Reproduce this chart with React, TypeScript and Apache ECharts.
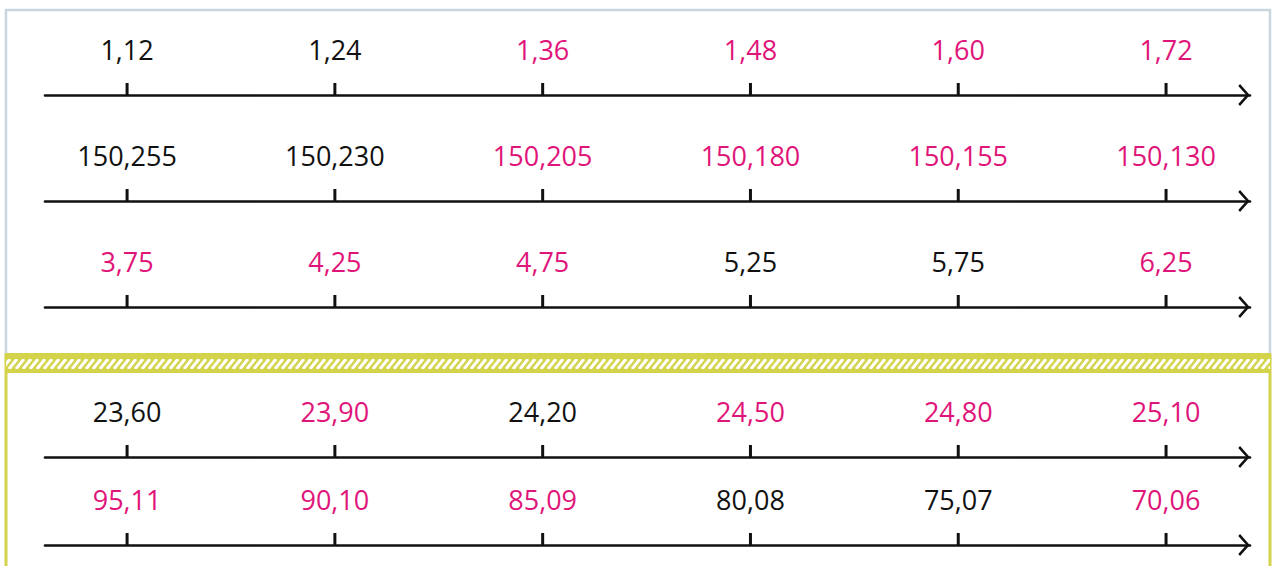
import React, { useEffect, useRef } from "react";
import * as echarts from "echarts";

// ---- data ----
const row1Values = [1.12, 1.24, 1.36, 1.48, 1.6, 1.72];
const row1Highlight = [false, false, true, true, true, true];
const row2Values = [150.255, 150.23, 150.205, 150.18, 150.155, 150.13];
const row2Highlight = [false, false, true, true, true, true];
const row3Values = [3.75, 4.25, 4.75, 5.25, 5.75, 6.25];
const row3Highlight = [true, true, true, false, false, true];
const row4Values = [23.6, 23.9, 24.2, 24.5, 24.8, 25.1];
const row4Highlight = [false, true, false, true, true, true];
const row5Values = [95.11, 90.1, 85.09, 80.08, 75.07, 70.06];
const row5Highlight = [true, true, true, false, false, true];
const rowDecimals = [2, 3, 2, 2, 2];

const BLACK = "#111111";
const MAGENTA = "#e0157a";
const BLUE_BORDER = "#c9d6de";
const YELLOW = "#d3d44c";

const rows = [
  { values: row1Values, hl: row1Highlight, lineY: 95 },
  { values: row2Values, hl: row2Highlight, lineY: 201 },
  { values: row3Values, hl: row3Highlight, lineY: 307 },
  { values: row4Values, hl: row4Highlight, lineY: 457 },
  { values: row5Values, hl: row5Highlight, lineY: 545 },
];

const fmt = (v: number, d: number) => v.toFixed(d).replace(".", ",");

export default function App() {
  const ref = useRef<HTMLDivElement>(null);
  useEffect(() => {
    if (!ref.current) return;
    const chart = echarts.init(ref.current, null, { renderer: "svg" });
    const GH = 80;
    const grids = rows.map((r) => ({ left: 45, right: 25, top: r.lineY - GH, height: GH }));
    const xAxes = rows.map((_, i) => ({
      type: "value",
      gridIndex: i,
      min: -0.395,
      max: 5.404,
      axisTick: { show: false },
      axisLabel: { show: false },
      splitLine: { show: false },
      axisLine: {
        show: true,
        onZero: false,
        lineStyle: { color: BLACK, width: 2.6 },
        symbol: ["none", "path://M0,11 L12.5,0 L25,11 L22.6,13 L12.5,3.8 L2.4,13 Z"],
        symbolSize: [22, 13],
        symbolOffset: [0, -6],
      },
    }));
    const yAxes = rows.map((_, i) => ({ type: "value", gridIndex: i, min: 0, max: 1, show: false }));
    const series = rows.map((r, i) => ({
      type: "scatter",
      xAxisIndex: i,
      yAxisIndex: i,
      clip: false,
      symbol: "rect",
      symbolSize: [3, 12],
      symbolOffset: [0, -6],
      itemStyle: { color: BLACK, opacity: 1 },
      label: {
        show: true,
        position: "top",
        distance: 20,
        formatter: "{b}",
        fontFamily: "Open Sans",
        fontSize: 27,
        opacity: 1,
      },
      data: r.values.map((v, j) => ({
        value: [j, 0],
        name: fmt(v, rowDecimals[i]),
        label: { color: r.hl[j] ? MAGENTA : BLACK },
      })),
    }));

    const stripes: any[] = [];
    for (let x = 2; x < 1275; x += 7) {
      stripes.push({
        type: "line",
        shape: { x1: x, y1: 369, x2: x + 8, y2: 359 },
        style: { stroke: "#ffffff", lineWidth: 3 },
      });
    }

    chart.setOption({
      animation: false,
      grid: grids,
      xAxis: xAxes,
      yAxis: yAxes,
      series,
      graphic: [
        {
          type: "rect",
          shape: { x: 6, y: 10, width: 1264, height: 350 },
          style: { fill: "none", stroke: BLUE_BORDER, lineWidth: 2.5 },
          z: -1,
        },
        {
          type: "rect",
          shape: { x: 6, y: 355, width: 1264, height: 230 },
          style: { fill: "none", stroke: YELLOW, lineWidth: 3 },
          z: -1,
        },
        {
          type: "rect",
          shape: { x: 6, y: 353, width: 1264, height: 20 },
          style: { fill: YELLOW },
          z: 0,
        },
        {
          type: "group",
          z: 1,
          clipPath: { type: "rect", shape: { x: 6, y: 359, width: 1264, height: 10 } },
          children: stripes,
        },
      ],
    });
    return () => chart.dispose();
  }, []);
  return (
    <div
      ref={ref}
      style={{ position: "fixed", left: 0, top: 0, width: 1275, height: 566, background: "#fff" }}
    />
  );
}
